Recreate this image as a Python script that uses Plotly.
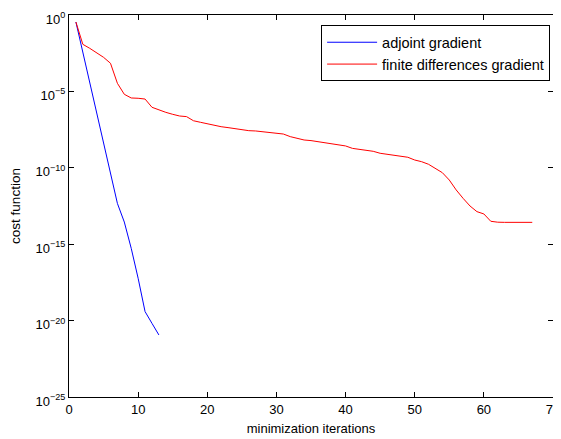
import plotly.graph_objects as go

# iterations
adj_iter = list(range(1, 14))
adj_log = [-0.46, -2.47, -4.47, -6.40, -8.40, -10.45, -12.33, -13.55, -15.27, -17.23, -19.41, -20.18, -20.94]

fd_iter = list(range(1, 68))
fd_log = [-0.46, -1.92, -2.18, -2.46, -2.77, -3.16, -4.47, -5.19, -5.43, -5.45,
          -5.50, -6.04, -6.22, -6.37, -6.50, -6.61, -6.65, -6.92, -7.02, -7.13,
          -7.24, -7.31, -7.37, -7.44, -7.51, -7.57, -7.59, -7.64, -7.68, -7.77,
          -7.79, -7.96, -8.09, -8.18, -8.22, -8.29, -8.35, -8.44, -8.51, -8.57,
          -8.73, -8.79, -8.84, -8.92, -9.05, -9.12, -9.16, -9.21, -9.31, -9.49,
          -9.60, -9.77, -10.03, -10.32, -10.80, -11.45, -12.00, -12.50, -12.87, -13.02,
          -13.50, -13.56, -13.57, -13.57, -13.57, -13.57, -13.57]

adj_vals = [10 ** v for v in adj_log]
fd_vals = [10 ** v for v in fd_log]

y_tick_exps = [0, -5, -10, -15, -20, -25]
y_tick_vals = [10 ** e for e in y_tick_exps]
y_tick_text = ["10<sup>%s</sup>" % (str(e).replace("-", "\u2212")) for e in y_tick_exps]

font = "Liberation Sans, Arial, Helvetica, sans-serif"

fig = go.Figure()
fig.add_trace(go.Scatter(x=adj_iter, y=adj_vals, mode="lines", name="adjoint gradient",
                         line=dict(color="#0000ff", width=1)))
fig.add_trace(go.Scatter(x=fd_iter, y=fd_vals, mode="lines", name="finite differences gradient",
                         line=dict(color="#ff0000", width=1)))

# the page body has an 8px margin, so the figure is sized to fit the window
fig.update_layout(
    width=553, height=431,
    margin=dict(l=61, r=8, t=7, b=42, autoexpand=False),
    paper_bgcolor="white", plot_bgcolor="white",
    font=dict(family=font, size=13, color="black"),
    showlegend=True,
    legend=dict(x=0.994, y=0.973, xanchor="right", yanchor="top",
                bordercolor="black", borderwidth=1, bgcolor="white",
                itemwidth=50,
                font=dict(size=14.5), tracegroupgap=0),
    xaxis=dict(range=[0, 70], dtick=10, tick0=0, showgrid=False, zeroline=False,
               showline=True, linecolor="black", linewidth=1, mirror="ticks",
               ticks="inside", ticklen=5, tickcolor="black", automargin=False,
               ticklabeloverflow="allow",
               tickfont=dict(size=13),
               title=dict(text="minimization iterations", standoff=8, font=dict(size=13))),
    yaxis=dict(type="log", range=[-25, 0], tickvals=y_tick_vals, ticktext=y_tick_text,
               showgrid=False, zeroline=False,
               showline=True, linecolor="black", linewidth=1, mirror="ticks",
               ticks="inside", ticklen=5, tickcolor="black", automargin=False,
               ticklabeloverflow="allow", ticklabelshift=4,
               tickfont=dict(size=13),
               title=dict(text="cost function", standoff=19, font=dict(size=13.5))),
)

fig.write_html("out.html")
